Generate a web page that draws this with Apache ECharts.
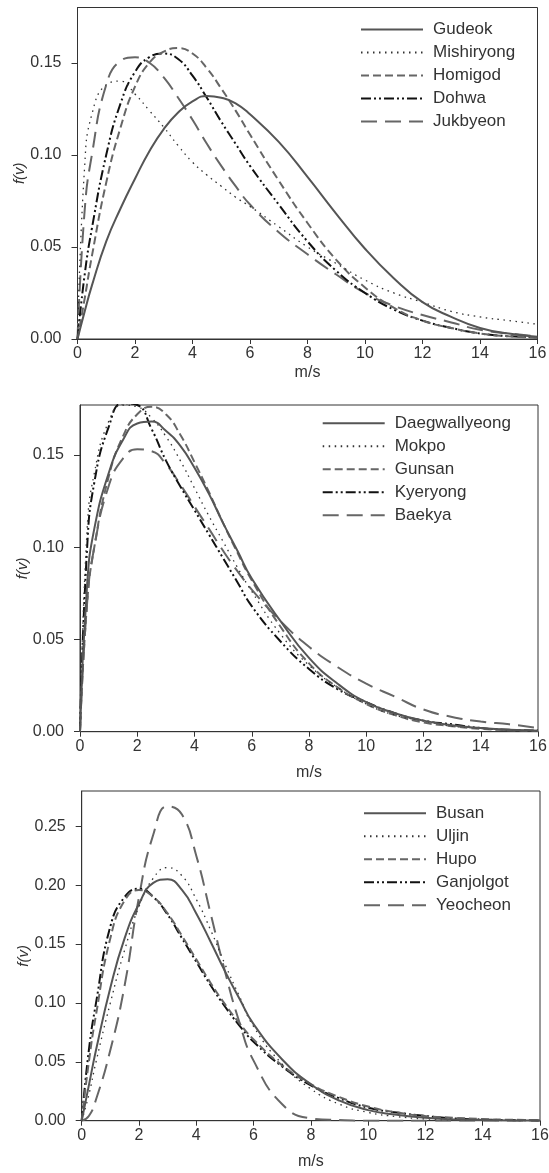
<!DOCTYPE html>
<html>
<head>
<meta charset="utf-8">
<script src="https://cdn.jsdelivr.net/npm/echarts@6/dist/echarts.min.js"></script>
<style>
  html, body { margin: 0; padding: 0; background: #fff; }
  #chart { width: 549px; height: 1173px; }
</style>
</head>
<body>
<div id="chart"></div>
<script>
// wind speed samples (m/s), shared by all three panels
const speeds = [0, 0.25, 0.5, 1, 1.5, 2, 2.5, 3, 3.5, 4, 4.5, 5, 5.5, 6, 7, 8, 9, 10, 11, 12, 13, 14, 15, 16];

// panel 1
const names1 = ['Gudeok', 'Mishiryong', 'Homigod', 'Dohwa', 'Jukbyeon'];
const gudeok = [0, 0.015, 0.029, 0.053, 0.071, 0.087, 0.102, 0.114, 0.123, 0.129, 0.132, 0.131, 0.128, 0.122, 0.107, 0.088, 0.068, 0.049, 0.033, 0.020, 0.012, 0.006, 0.003, 0.0012];
const mishiryong = [0, 0.094, 0.122, 0.138, 0.140, 0.133, 0.124, 0.115, 0.105, 0.096, 0.089, 0.083, 0.077, 0.072, 0.061, 0.050, 0.041, 0.032, 0.025, 0.020, 0.015, 0.012, 0.010, 0.008];
const homigod = [0, 0.022, 0.045, 0.085, 0.115, 0.137, 0.150, 0.156, 0.158, 0.155, 0.147, 0.136, 0.124, 0.111, 0.086, 0.063, 0.043, 0.028, 0.017, 0.010, 0.006, 0.003, 0.0015, 0.0007];
const dohwa = [0, 0.035, 0.060, 0.100, 0.128, 0.145, 0.153, 0.155, 0.152, 0.143, 0.131, 0.118, 0.106, 0.094, 0.073, 0.053, 0.037, 0.025, 0.016, 0.010, 0.006, 0.003, 0.0015, 0.001];
const jukbyeon = [0, 0.070, 0.100, 0.138, 0.151, 0.153, 0.150, 0.142, 0.131, 0.119, 0.106, 0.094, 0.083, 0.073, 0.058, 0.046, 0.035, 0.025, 0.018, 0.013, 0.009, 0.005, 0.003, 0.0015];

// panel 2
const names2 = ['Daegwallyeong', 'Mokpo', 'Gunsan', 'Kyeryong', 'Baekya'];
const daegwallyeong = [0, 0.080, 0.110, 0.140, 0.158, 0.167, 0.168, 0.163, 0.155, 0.143, 0.129, 0.113, 0.098, 0.083, 0.060, 0.040, 0.026, 0.016, 0.010, 0.006, 0.0035, 0.002, 0.001, 0.0005];
const mokpo = [0, 0.110, 0.140, 0.168, 0.177, 0.176, 0.170, 0.160, 0.147, 0.132, 0.117, 0.103, 0.089, 0.076, 0.053, 0.036, 0.024, 0.015, 0.009, 0.006, 0.003, 0.002, 0.001, 0.0005];
const gunsan = [0, 0.070, 0.100, 0.138, 0.160, 0.172, 0.176, 0.172, 0.161, 0.146, 0.130, 0.113, 0.097, 0.082, 0.057, 0.037, 0.024, 0.015, 0.009, 0.005, 0.003, 0.0015, 0.0008, 0.0004];
const kyeryong = [0, 0.100, 0.135, 0.165, 0.178, 0.177, 0.164, 0.147, 0.133, 0.120, 0.107, 0.094, 0.081, 0.068, 0.049, 0.034, 0.023, 0.016, 0.010, 0.006, 0.004, 0.002, 0.001, 0.0006];
const baekya = [0, 0.070, 0.100, 0.133, 0.148, 0.153, 0.152, 0.145, 0.134, 0.122, 0.110, 0.098, 0.087, 0.077, 0.060, 0.046, 0.035, 0.026, 0.019, 0.012, 0.008, 0.0055, 0.004, 0.002];

// panel 3
const names3 = ['Busan', 'Uljin', 'Hupo', 'Ganjolgot', 'Yeocheon'];
const busan = [0, 0.030, 0.060, 0.113, 0.155, 0.184, 0.202, 0.205, 0.196, 0.176, 0.152, 0.127, 0.104, 0.082, 0.052, 0.031, 0.017, 0.009, 0.005, 0.0025, 0.001, 0.0005, 0.0002, 0.0001];
const uljin = [0, 0.022, 0.050, 0.100, 0.145, 0.182, 0.206, 0.215, 0.208, 0.188, 0.162, 0.133, 0.106, 0.080, 0.048, 0.027, 0.014, 0.007, 0.0035, 0.0015, 0.0007, 0.0003, 0.0001, 0];
const hupo = [0, 0.050, 0.090, 0.155, 0.187, 0.196, 0.190, 0.176, 0.157, 0.137, 0.117, 0.099, 0.083, 0.069, 0.047, 0.031, 0.020, 0.012, 0.007, 0.004, 0.0025, 0.0014, 0.0008, 0.0004];
const ganjolgot = [0, 0.060, 0.100, 0.165, 0.190, 0.197, 0.190, 0.175, 0.155, 0.135, 0.115, 0.097, 0.081, 0.067, 0.046, 0.030, 0.019, 0.011, 0.007, 0.004, 0.002, 0.001, 0.0005, 0.0002];
const yeocheon = [0, 0.004, 0.018, 0.060, 0.115, 0.190, 0.243, 0.267, 0.260, 0.225, 0.176, 0.127, 0.084, 0.051, 0.014, 0.002, 0.0005, 0, 0, 0, 0, 0, 0, 0];

const yTicks12 = [0, 0.05, 0.10, 0.15];
const yTicks3 = [0, 0.05, 0.10, 0.15, 0.20, 0.25];

// line look, same order in every panel: solid, dotted, short dash, dash-dot-dot, long dash
const styles = [
  { color: '#555555', width: 2, type: 'solid' },
  { color: '#333333', width: 1.3, type: [1.5, 4.5] },
  { color: '#666666', width: 2, type: [8, 4] },
  { color: '#111111', width: 2, type: [10, 3, 2, 3, 2, 3] },
  { color: '#666666', width: 2, type: [16, 8] }
];

const font = '"Liberation Sans", Arial, sans-serif';
const ink = '#333';

const grids = [
  { left: 77.5, top: 7.5, width: 460, height: 331.5 },
  { left: 80, top: 405, width: 458, height: 326.7 },
  { left: 81.7, top: 791, width: 458.3, height: 329.7 }
];
const yMax = [0.18, 0.177, 0.28];
const xNameGap = [26, 33, 33];
const legendPos = [
  { left: 355, top: 16 },
  { left: 316.7, top: 409.7 },
  { left: 358, top: 799.7 }
];

const panels = [
  { names: names1, values: [gudeok, mishiryong, homigod, dohwa, jukbyeon], ticks: yTicks12 },
  { names: names2, values: [daegwallyeong, mokpo, gunsan, kyeryong, baekya], ticks: yTicks12 },
  { names: names3, values: [busan, uljin, hupo, ganjolgot, yeocheon], ticks: yTicks3 }
];

const fmtY = (v) => v.toFixed(2);

const option = {
  animation: false,
  backgroundColor: '#fff',
  grid: grids.map((g) => ({
    ...g,
    show: true,
    borderColor: ink,
    borderWidth: 1,
    backgroundColor: 'transparent',
    containLabel: false,
    outerBoundsMode: 'none'
  })),
  legend: panels.map((p, i) => ({
    data: p.names,
    orient: 'vertical',
    left: legendPos[i].left,
    top: legendPos[i].top,
    itemWidth: 62,
    itemHeight: 14,
    itemGap: 6,
    selectedMode: false,
    itemStyle: { opacity: 0 },
    textStyle: { fontFamily: font, fontSize: 17, color: ink, lineHeight: 16, padding: [0, 0, 0, 5] }
  })),
  xAxis: panels.map((p, i) => ({
    type: 'value',
    gridIndex: i,
    min: 0,
    max: 16,
    interval: 2,
    name: 'm/s',
    nameLocation: 'middle',
    nameGap: xNameGap[i],
    nameMoveOverlap: false,
    nameTextStyle: { fontFamily: font, fontSize: 16, color: ink },
    axisLine: { show: true, lineStyle: { color: ink, width: 1 } },
    axisTick: { show: true, length: 5, lineStyle: { color: ink } },
    axisLabel: { fontFamily: font, fontSize: 16, color: ink, margin: 7 },
    splitLine: { show: false }
  })),
  yAxis: panels.map((p, i) => ({
    type: 'value',
    gridIndex: i,
    min: 0,
    max: yMax[i],
    name: 'f(v)',
    nameLocation: 'middle',
    nameGap: 50,
    nameRotate: 90,
    nameMoveOverlap: false,
    nameTextStyle: { fontFamily: font, fontSize: 15, fontStyle: 'italic', color: ink },
    axisLine: { show: true, lineStyle: { color: ink, width: 1 } },
    axisTick: { show: true, length: 6, lineStyle: { color: ink }, customValues: p.ticks },
    axisLabel: { fontFamily: font, fontSize: 16, color: ink, margin: 16, customValues: p.ticks, formatter: fmtY },
    splitLine: { show: false }
  })),
  series: panels.flatMap((p, i) =>
    p.names.map((name, k) => ({
      name,
      type: 'line',
      xAxisIndex: i,
      yAxisIndex: i,
      data: speeds.map((s, j) => [s, p.values[k][j]]),
      showSymbol: false,
      symbol: 'none',
      smooth: 0.5,
      clip: true,
      color: styles[k].color,
      lineStyle: { ...styles[k] },
      z: 5 - k
    }))
  )
};

const chart = echarts.init(document.getElementById('chart'), null, { renderer: 'canvas' });
chart.setOption(option);
</script>
</body>
</html>
